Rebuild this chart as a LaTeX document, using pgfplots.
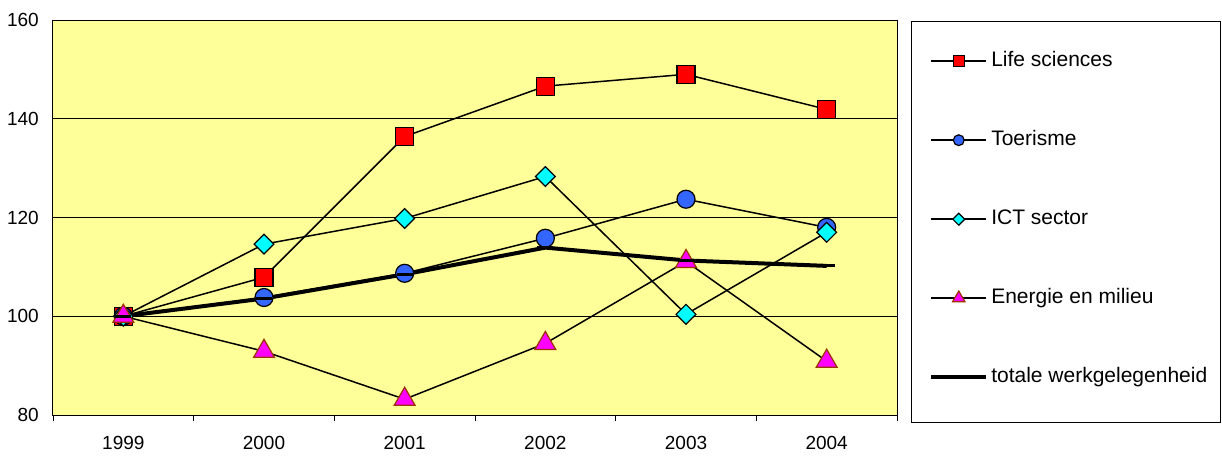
\documentclass[border=0pt]{standalone}
\usepackage{pgfplots}
\pgfplotsset{compat=1.18}
\usepackage{fontspec}
\setmainfont{Liberation Sans}
\definecolor{bg}{HTML}{FFFF99}
\definecolor{cred}{HTML}{FF0000}
\definecolor{cblue}{HTML}{3366FF}
\definecolor{ccyan}{HTML}{00FFFF}
\definecolor{cmag}{HTML}{FF00FF}
\definecolor{cbrown}{HTML}{993300}
\begin{document}
\begin{tikzpicture}
\useasboundingbox (-53pt,-41pt) rectangle (1169pt,415pt);
\begin{axis}[
  at={(0pt,0pt)}, anchor=south west,
  scale only axis, width=844pt, height=395pt,
  xmin=-0.5, xmax=5.5, ymin=80, ymax=160,
  ytick={80,100,...,160},
  xtick={0,...,5}, xticklabels={1999,2000,2001,2002,2003,2004},
  minor xtick={-0.5,0.5,...,5.5},
  xtick pos=lower, ytick pos=left,
  ymajorgrids, major grid style={black, line width=0.8pt},
  axis background/.style={fill=bg},
  axis line style={black, line width=1pt},
  tick style={black, line width=0.8pt},
  major tick length=0pt, minor tick length=6pt, tick align=outside,
  /pgf/number format/assume math mode=true,
  tick label style={font=\fontsize{19}{21}\selectfont},
  yticklabel style={inner sep=0pt, xshift=-14pt},
  xticklabel style={inner sep=0pt, yshift=-21pt},
  legend image code/.code={\draw[mark repeat=2,mark phase=2,#1, every mark/.append style={scale=0.6}] plot coordinates {(0pt,0pt)(27.5pt,0pt)(55pt,0pt)};},
  legend cell align=left,
  legend style={draw=none, fill=none, inner sep=0pt, at={(1.0380,0.919)}, anchor=north west,
    row sep=61pt, column sep=3pt,
    nodes={inner sep=0pt, text height=14pt, text depth=4pt, font=\fontsize{21}{23}\selectfont}},
]
\addplot[black, line width=1.5pt, mark=square*, mark size=9pt, mark options={fill=cred, draw=black, line width=1.2pt}]
  coordinates {(0,100)(1,107.9)(2,136.4)(3,146.6)(4,149.0)(5,141.9)};
\addlegendentry{Life sciences}
\addplot[black, line width=1.5pt, mark=*, mark size=9pt, mark options={fill=cblue, draw=black, line width=1.2pt}]
  coordinates {(0,100)(1,103.8)(2,108.7)(3,115.8)(4,123.7)(5,118.0)};
\addlegendentry{Toerisme}
\addplot[black, line width=1.5pt, mark=square*, mark size=7pt, mark options={rotate=45, fill=ccyan, draw=black, line width=1.2pt}]
  coordinates {(0,100)(1,114.6)(2,119.8)(3,128.3)(4,100.4)(5,117.0)};
\addlegendentry{ICT sector}
\addplot[black, line width=1.5pt, mark=triangle*, mark size=12pt, mark options={fill=cmag, draw=cbrown, line width=1.2pt}]
  coordinates {(0,100)(1,92.9)(2,83.2)(3,94.5)(4,111.1)(5,90.9)};
\addlegendentry{Energie en milieu}
\addplot[black, line width=4pt, mark=-, mark size=8pt, mark options={line width=3pt}]
  coordinates {(0,100)(1,103.6)(2,108.5)(3,113.9)(4,111.3)(5,110.2)};
\addlegendentry{totale werkgelegenheid}
\end{axis}
\draw[black, line width=1pt] (858pt,-7pt) rectangle (1167pt,393pt);
\end{tikzpicture}
\end{document}
